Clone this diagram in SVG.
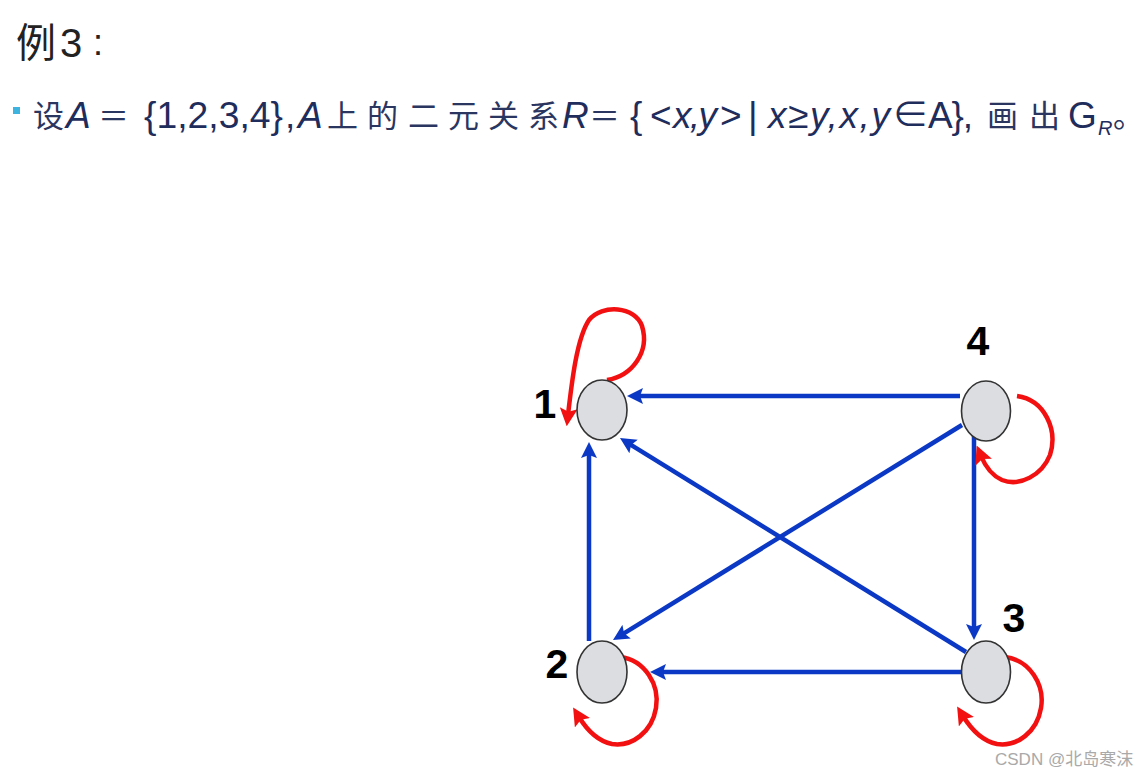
<svg xmlns="http://www.w3.org/2000/svg" width="1146" height="775" viewBox="0 0 1146 775">
<style>
.t{font-family:"Liberation Sans","Noto Sans CJK SC",sans-serif;fill:#1f2d5c;font-size:37px}
.c{font-family:"Noto Sans CJK SC",sans-serif;fill:#2a3560;font-size:31px}
.i{font-style:italic}
.lbl{font-family:"Liberation Sans",Arial,sans-serif;font-weight:bold;font-size:41px;fill:#000;text-anchor:middle}
.node{fill:#dcdde0;stroke:#333;stroke-width:1.6}
.blue{fill:none;stroke:#0b38c4;stroke-width:4.5}
.red{fill:none;stroke:#f21010;stroke-width:4.5}
</style>
<defs>
<marker id="ab" viewBox="0 0 16 16" refX="6" refY="8" markerWidth="16" markerHeight="16" markerUnits="userSpaceOnUse" orient="auto"><path d="M0,0 L16,8 L0,16 L3,8 z" fill="#0b38c4"/></marker>
<marker id="ar" viewBox="0 0 16 16" refX="6" refY="8" markerWidth="18" markerHeight="18" markerUnits="userSpaceOnUse" orient="auto"><path d="M0,0 L16,8 L0,16 L3,8 z" fill="#f21010"/></marker>
</defs>
<rect width="1146" height="775" fill="#fff"/>
<g id="title">
<text x="16" y="57" style="font-family:'Noto Sans CJK SC',sans-serif;font-size:40px;fill:#222">例</text>
<text x="60" y="57" style="font-family:'Liberation Sans',sans-serif;font-size:40px;fill:#222">3</text>
<text x="93" y="55" style="font-family:'Liberation Sans',sans-serif;font-size:36px;fill:#222">:</text>
</g>
<g id="statement">
<rect x="13" y="107" width="7" height="7" fill="#3db4e0"/>
<text class="c" x="33" y="127">设</text>
<text class="t i" x="66" y="128">A</text>
<text class="c" x="98" y="127">＝</text>
<text class="t" x="144" y="128" textLength="139" lengthAdjust="spacingAndGlyphs">{1,2,3,4}</text>
<text class="t" x="285" y="128">,</text>
<text class="t i" x="298" y="128">A</text>
<text class="c" x="327" y="127">上</text>
<text class="c" x="367" y="127">的</text>
<text class="c" x="408" y="127">二</text>
<text class="c" x="448" y="127">元</text>
<text class="c" x="488" y="127">关</text>
<text class="c" x="528" y="127">系</text>
<text class="t i" x="562" y="128">R</text>
<text class="c" x="589" y="127">＝</text>
<text class="t" x="630" y="128">{</text>
<text class="t" x="650" y="128">&lt;</text>
<text class="t i" x="673" y="128" textLength="44" lengthAdjust="spacing">x,y</text>
<text class="t" x="720" y="128">&gt;</text>
<text class="t" x="748" y="128">|</text>
<text class="t i" x="768" y="128" textLength="122" lengthAdjust="spacing">x≥y,x,y</text>
<text class="t" x="892" y="128" textLength="81" lengthAdjust="spacing">∈A},</text>
<text class="c" x="987" y="127">画</text>
<text class="c" x="1029" y="127">出</text>
<text class="t" x="1068" y="128">G</text>
<text class="t i" x="1098" y="135" style="font-size:20px">R</text>
<text class="c" x="1113" y="127">。</text>
</g>
<g id="edges">
<path class="blue" d="M960,396 L637,396" marker-end="url(#ab)"/>
<path class="blue" d="M962,425 L621.5,634.8" marker-end="url(#ab)"/>
<path class="blue" d="M974,425 L974,630" marker-end="url(#ab)"/>
<path class="blue" d="M966,652 L628.5,443.3" marker-end="url(#ab)"/>
<path class="blue" d="M962,672 L660,672" marker-end="url(#ab)"/>
<path class="blue" d="M589,641 L589,452" marker-end="url(#ab)"/>
<path class="red" d="M607,380 C632,376 650,352 642,326 C635,306 602,304 589,320 C577,338 572,380 568,415" marker-end="url(#ar)"/>
<path class="red" d="M1017,396 C1045,400 1058,430 1050,455 C1042,475 1020,487 1002,480 C993,476 986,468 981,456" marker-end="url(#ar)"/>
<path class="red" d="M620,657 C645,660 660,685 656,708 C652,732 632,747 612,744 C597,741 587,730 579,717" marker-end="url(#ar)"/>
<path class="red" d="M1005,657 C1030,660 1045,685 1041,708 C1037,732 1017,747 997,744 C982,741 971,729 963,716" marker-end="url(#ar)"/>
</g>
<g id="node1"><ellipse class="node" cx="602" cy="410" rx="25" ry="30"/><text class="lbl" x="545" y="418">1</text></g>
<g id="node2"><ellipse class="node" cx="602" cy="672" rx="25" ry="31"/><text class="lbl" x="557" y="678">2</text></g>
<g id="node3"><ellipse class="node" cx="986" cy="672" rx="24.5" ry="31"/><text class="lbl" x="1014" y="632">3</text></g>
<g id="node4"><ellipse class="node" cx="986" cy="411" rx="24.5" ry="30"/><text class="lbl" x="978" y="355">4</text></g>
<text x="995" y="765" style="font-family:'Liberation Sans','Noto Sans CJK SC',sans-serif;font-size:17px;fill:#a9a9a9">CSDN @北岛寒沫</text>
</svg>
